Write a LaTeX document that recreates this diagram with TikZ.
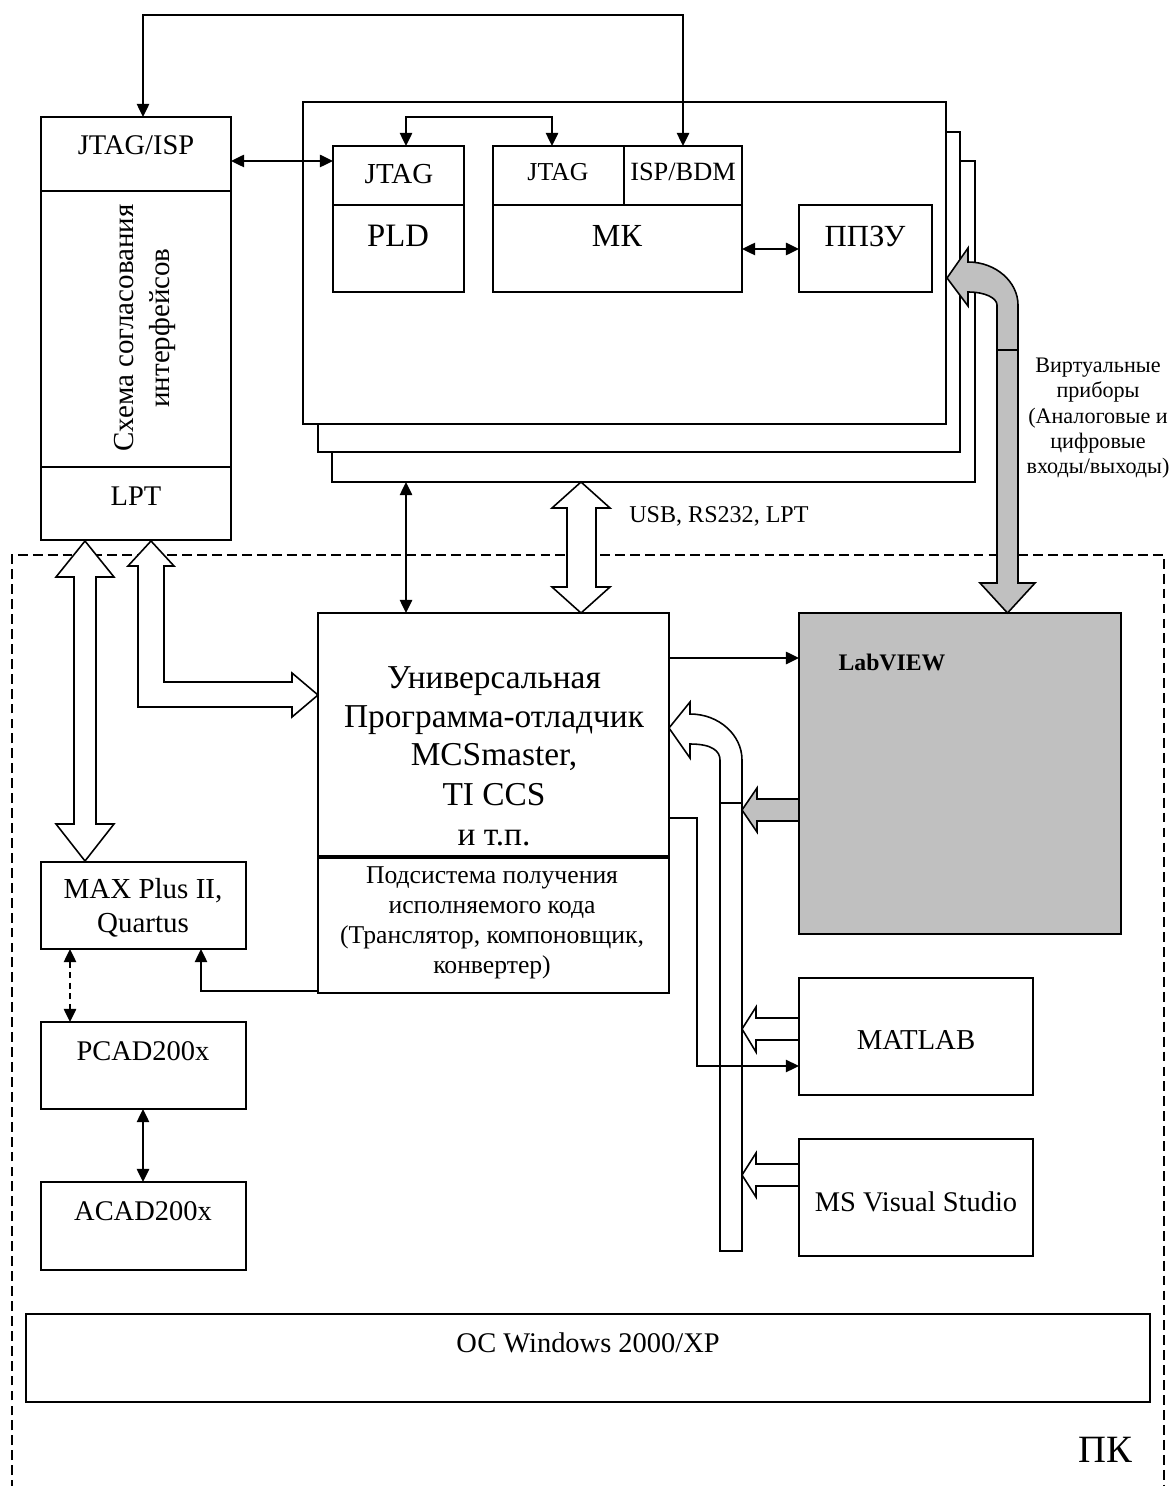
\documentclass[tikz,border=0pt]{standalone}
\usepackage{fontspec}
\setmainfont{Liberation Serif}
\usetikzlibrary{arrows.meta}
\newcommand{\pbox}[6][]{\node[box,minimum width={(#4-#2)*0.02cm},minimum height={(#5-#3)*0.02cm},#1] (#6) at (#2,#3) {};}
\begin{document}
\begin{tikzpicture}[x=0.02cm,y=-0.02cm,
  box/.style={draw,line width=0.9pt,rectangle,inner sep=0pt,outer sep=0pt,anchor=north west,fill=white},
  framebox/.style={box,line width=1.4pt},
  unibox/.style={box,line width=1.4pt},
  thin/.style={line width=0.9pt},
  conn/.style={line width=1.2pt,{Triangle[length=7.5pt,width=7pt]}-{Triangle[length=7.5pt,width=7pt]}},
  conn1/.style={line width=1.2pt,-{Triangle[length=7.5pt,width=7pt]}},
  hollow/.style={draw,line width=0.9pt,fill=white,line join=miter},
  grayarr/.style={draw,line width=0.9pt,fill=lgray,line join=miter},
  txt/.style={inner sep=0pt,anchor=base,font=\fontsize{16.2}{19}\selectfont},
]
\definecolor{lgray}{HTML}{C0C0C0}
\useasboundingbox (0,0) rectangle (1172,1486);
\fill[white] (0,0) rectangle (1172,1486);

% PC dashed outline
\draw[line width=1.1pt,dash pattern=on 5.6pt off 2.9pt] (12,1490) -- (12,555) -- (1164,555) -- (1164,1490);

% stacked boards
\pbox[framebox]{332}{161}{975}{482}{frameC}
\pbox[framebox]{318}{132}{960}{452}{frameB}
\pbox[framebox]{303}{102}{946}{424}{frameA}

% inner boxes
\pbox{333}{146}{464}{292}{pld}
\draw[thin] (333,205) -- (464,205);
\pbox{493}{146}{742}{292}{mk}
\draw[thin] (493,205) -- (742,205);
\draw[thin] (624,146) -- (624,205);
\pbox{799}{205}{932}{292}{ppzu}

% interface box
\pbox{41}{117}{231}{540}{lbox}
\draw[thin] (41,191) -- (231,191);
\draw[thin] (41,467) -- (231,467);

% PC blocks
\pbox[unibox]{318}{613}{669}{857}{unitop}
\pbox[unibox]{318}{857}{669}{993}{unisub}
\draw[line width=2.2pt] (unitop.south west) -- (unitop.south east);
\pbox[fill=lgray]{799}{613}{1121}{934}{lab}
\pbox{799}{978}{1033}{1095}{mat}
\pbox{799}{1139}{1033}{1256}{msvs}
\pbox{41}{862}{246}{949}{maxp}
\pbox{41}{1022}{246}{1109}{pcad}
\pbox{41}{1182}{246}{1270}{acad}
\pbox{26}{1314}{1150}{1402}{os}

% hollow arrows, left
\draw[hollow] (85,541) -- (114,577) -- (96,577) -- (96,824) -- (114,824) -- (85,861) -- (56,824) -- (74,824) -- (74,577) -- (56,577) -- cycle;
\draw[hollow] (151,541) -- (174,566) -- (164,566) -- (164,682) -- (292,682) -- (292,673) -- (318,695) -- (292,717) -- (292,707) -- (138,707) -- (138,566) -- (128,566) -- cycle;
% USB arrow
\draw[hollow] (581,482) -- (610,508) -- (596,508) -- (596,587) -- (610,587) -- (581,613) -- (552,587) -- (567,587) -- (567,508) -- (552,508) -- cycle;

% gray bent arrow to boards
\draw[grayarr] (947,278) -- (968,248) -- (968,262) .. controls (996,262) and (1018,282) .. (1018,305) -- (1018,350) -- (997,350) -- (997,305) .. controls (997,298) and (985,292) .. (968,292) -- (968,306) -- cycle;
\draw[grayarr] (997,350) -- (997,583) -- (980,583) -- (1007.5,613) -- (1035,583) -- (1018,583) -- (1018,350) -- cycle;

% white bent arrow into uni
\draw[hollow] (669,728) -- (690,702) -- (690,714) .. controls (719,714) and (742,735) .. (742,760) -- (742,803) -- (720,803) -- (720,760) .. controls (720,751) and (712,744) .. (690,744) -- (690,758) -- cycle;
\draw[hollow] (720,803) rectangle (742,1251);

% arrows into bus
\draw[grayarr] (742,810) -- (757,788) -- (757,799) -- (799,799) -- (799,821) -- (757,821) -- (757,832) -- cycle;
\draw[hollow] (742,1029) -- (756,1007) -- (756,1018) -- (799,1018) -- (799,1040) -- (756,1040) -- (756,1052) -- cycle;
\draw[hollow] (742,1175) -- (756,1153) -- (756,1164) -- (799,1164) -- (799,1186) -- (756,1186) -- (756,1197) -- cycle;

% connectors
\coordinate (subout) at (318,991);
\coordinate (maxin) at (201,949);
\draw[conn] (143,117) -- (143,15) -- (683,15) -- (683,146);
\draw[conn] (lbox.east |- 0,161) -- (pld.west |- 0,161);
\draw[conn] (406,146) -- (406,117) -- (552,117) -- (552,146);
\draw[conn] (mk.east |- 0,249) -- (ppzu.west |- 0,249);
\draw[conn] (406,482) -- (406,613);
\draw[conn1] (unitop.east |- 0,658) -- (lab.west |- 0,658);
\draw[conn1,line width=1pt] (669,818) -- (697,818) -- (697,1066) -- (mat.west |- 0,1066);
\draw[conn1] (subout) -| (maxin);
\draw[conn,dash pattern=on 3.5pt off 2.5pt] (70,949) -- (70,1022);
\draw[conn] (143,1109) -- (143,1182);

% texts
\node[txt] (tjisp) at (136,155) {JTAG/ISP};
\node[txt,anchor=center,rotate=90,align=center,font=\fontsize{16.5}{21}\selectfont] (tscheme) at (145,328) {Схема согласования\\интерфейсов};
\node[txt] (tlpt) at (136,505) {LPT};
\node[txt,font=\fontsize{16.5}{19}\selectfont] (tpj) at (399,184) {JTAG};
\node[txt,font=\fontsize{18.6}{21}\selectfont] (tpld) at (398,247) {PLD};
\node[txt,font=\fontsize{14.7}{17}\selectfont] (tmj) at (558,181) {JTAG};
\node[txt,font=\fontsize{15}{17}\selectfont] (tisp) at (683,181) {ISP/BDM};
\node[txt,font=\fontsize{18.3}{21}\selectfont] (tmk) at (617,247) {МК};
\node[txt,font=\fontsize{17.5}{20}\selectfont] (tppzu) at (865,247) {ППЗУ};
\node[txt,font=\fontsize{13.7}{16}\selectfont,anchor=base west] (tusb) at (629,522) {USB, RS232, LPT};
\begin{scope}[every node/.style={txt,font=\fontsize{12.6}{14.5}\selectfont}]
\node (v1) at (1098,373) {Виртуальные};
\node (v2) at (1098,398) {приборы};
\node (v3) at (1098,423) {(Аналоговые и};
\node (v4) at (1098,448) {цифровые};
\node (v5) at (1098,473) {входы/выходы)};
\end{scope}
\begin{scope}[every node/.style={txt,font=\fontsize{19}{22}\selectfont}]
\node (u1) at (494,688) {Универсальная};
\node (u2) at (494,727) {Программа-отладчик};
\node (u3) at (494,765) {MCSmaster,};
\node (u4) at (494,805) {TI CCS};
\node (u5) at (494,845) {и т.п.};
\end{scope}
\begin{scope}[every node/.style={txt,font=\fontsize{14.6}{18}\selectfont}]
\node (p1) at (492,883) {Подсистема получения};
\node (p2) at (492,913) {исполняемого кода};
\node (p3) at (492,943) {(Транслятор, компоновщик,};
\node (p4) at (492,973) {конвертер)};
\end{scope}
\node[txt,font=\fontsize{13.5}{16}\bfseries] (tlab) at (892,670) {LabVIEW};
\node[txt,font=\fontsize{16.4}{19}\selectfont] (tmat) at (916,1049) {MATLAB};
\node[txt] (tms) at (916,1211) {MS Visual Studio};
\node[txt,font=\fontsize{16.5}{19}\selectfont] (tmax1) at (143,898) {MAX Plus II,};
\node[txt,font=\fontsize{16.5}{19}\selectfont] (tmax2) at (143,932) {Quartus};
\node[txt] (tpcad) at (143,1060) {PCAD200x};
\node[txt] (tacad) at (143,1220) {ACAD200x};
\node[txt] (tos) at (588,1352) {ОС Windows 2000/XP};
\node[txt,font=\fontsize{22}{26}\selectfont] (tpk) at (1105,1462) {ПК};
\end{tikzpicture}
\end{document}
